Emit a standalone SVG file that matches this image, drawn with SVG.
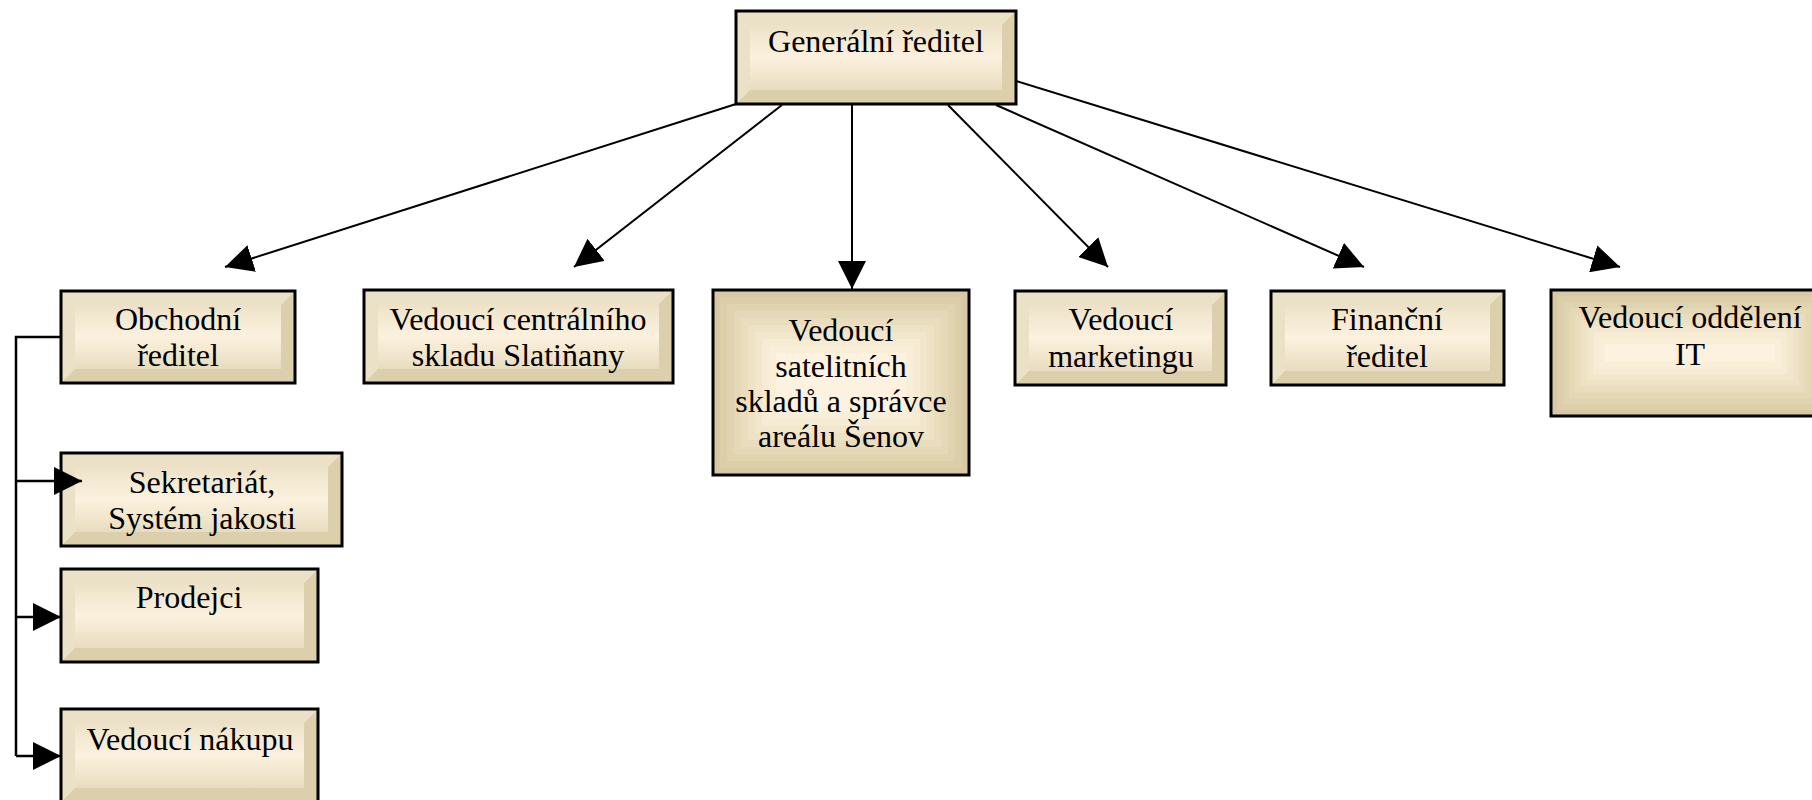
<svg xmlns="http://www.w3.org/2000/svg" width="1812" height="800" viewBox="0 0 1812 800">
<style>
.frame{fill:#dccfac}
.bevel{fill:#ebe1c7}
.inner{fill:url(#innerGrad)}
.border{fill:none;stroke:#000;stroke-width:3}
.lbl{font-family:"Liberation Serif","Times New Roman",serif;font-size:32px;fill:#000;text-anchor:middle}
.conn{fill:none;stroke:#000;stroke-width:2}
.bracket{fill:none;stroke:#000;stroke-width:2.5}
</style>
<defs>
<linearGradient id="innerGrad" x1="0" y1="0" x2="0" y2="1">
<stop offset="0" stop-color="#ede2c8"/>
<stop offset="0.5" stop-color="#fcf1de"/>
<stop offset="1" stop-color="#e8dcbf"/>
</linearGradient>
<marker id="arr" markerUnits="userSpaceOnUse" markerWidth="28" markerHeight="28" refX="28" refY="14" orient="auto" viewBox="0 0 28 28">
<path d="M0,0 L28,14 L0,28 Z" fill="#000"/>
</marker>
</defs>
<rect width="1812" height="800" fill="#fff"/>

<g id="n-generalni">
<rect class="frame" x="736" y="11" width="280" height="93"/>
<path class="bevel" d="M736,11 H1016 L1002,25 H750 V90 L736,104 Z"/>
<rect class="inner" x="750" y="25" width="252" height="65"/>
<rect class="border" x="736" y="11" width="280" height="93"/>
<text class="lbl" x="876" y="52">Generální ředitel</text>
</g>

<g id="n-obchodni">
<rect class="frame" x="61" y="291" width="234" height="92"/>
<path class="bevel" d="M61,291 H295 L281,305 H75 V369 L61,383 Z"/>
<rect class="inner" x="75" y="305" width="206" height="64"/>
<rect class="border" x="61" y="291" width="234" height="92"/>
<text class="lbl" x="178" y="330">Obchodní</text>
<text class="lbl" x="178" y="366">ředitel</text>
</g>

<g id="n-centralni">
<rect class="frame" x="364" y="290" width="309" height="93"/>
<path class="bevel" d="M364,290 H673 L659,304 H378 V369 L364,383 Z"/>
<rect class="inner" x="378" y="304" width="281" height="65"/>
<rect class="border" x="364" y="290" width="309" height="93"/>
<text class="lbl" x="518" y="330">Vedoucí centrálního</text>
<text class="lbl" x="518" y="366">skladu Slatiňany</text>
</g>

<g id="n-satelitni">
<rect x="713" y="290" width="256" height="185" fill="#d8c9a4"/>
<rect x="720" y="297" width="242" height="171" fill="#dccea9"/>
<rect x="727" y="304" width="228" height="157" fill="#e0d3af"/>
<rect x="734" y="311" width="214" height="143" fill="#e5d8b6"/>
<rect x="741" y="318" width="200" height="129" fill="#e9ddbd"/>
<rect x="748" y="325" width="186" height="115" fill="#eee2c5"/>
<rect x="755" y="332" width="172" height="101" fill="#f2e7cc"/>
<rect x="762" y="339" width="158" height="87" fill="#f6ebd3"/>
<rect x="769" y="346" width="144" height="73" fill="#f9efd9"/>
<rect x="776" y="353" width="130" height="59" fill="#fcf2df"/>
<rect class="border" x="713" y="290" width="256" height="185"/>
<text class="lbl" x="841" y="341">Vedoucí</text>
<text class="lbl" x="841" y="377">satelitních</text>
<text class="lbl" x="841" y="412">skladů a správce</text>
<text class="lbl" x="841" y="447">areálu Šenov</text>
</g>

<g id="n-marketing">
<rect class="frame" x="1015" y="291" width="211" height="94"/>
<path class="bevel" d="M1015,291 H1226 L1212,305 H1029 V371 L1015,385 Z"/>
<rect class="inner" x="1029" y="305" width="183" height="66"/>
<rect class="border" x="1015" y="291" width="211" height="94"/>
<text class="lbl" x="1121" y="330">Vedoucí</text>
<text class="lbl" x="1121" y="367">marketingu</text>
</g>

<g id="n-financni">
<rect class="frame" x="1271" y="291" width="233" height="94"/>
<path class="bevel" d="M1271,291 H1504 L1490,305 H1285 V371 L1271,385 Z"/>
<rect class="inner" x="1285" y="305" width="205" height="66"/>
<rect class="border" x="1271" y="291" width="233" height="94"/>
<text class="lbl" x="1387" y="330">Finanční</text>
<text class="lbl" x="1387" y="367">ředitel</text>
</g>

<g id="n-it">
<rect x="1551" y="290" width="278" height="126" fill="#d8c9a4"/>
<rect x="1557" y="296" width="266" height="114" fill="#dccea9"/>
<rect x="1563" y="302" width="254" height="102" fill="#e0d3af"/>
<rect x="1569" y="308" width="242" height="90" fill="#e5d8b6"/>
<rect x="1575" y="314" width="230" height="78" fill="#e9ddbd"/>
<rect x="1581" y="320" width="218" height="66" fill="#eee2c5"/>
<rect x="1587" y="326" width="206" height="54" fill="#f2e7cc"/>
<rect x="1593" y="332" width="194" height="42" fill="#f6ebd3"/>
<rect x="1599" y="338" width="182" height="30" fill="#f9efd9"/>
<rect x="1605" y="344" width="170" height="18" fill="#fcf2df"/>
<rect class="border" x="1551" y="290" width="278" height="126"/>
<text class="lbl" x="1690" y="328">Vedoucí oddělení</text>
<text class="lbl" x="1690" y="365">IT</text>
</g>

<g id="n-sekretariat">
<rect class="frame" x="61" y="453" width="281" height="93"/>
<path class="bevel" d="M61,453 H342 L328,467 H75 V532 L61,546 Z"/>
<rect class="inner" x="75" y="467" width="253" height="65"/>
<rect class="border" x="61" y="453" width="281" height="93"/>
<text class="lbl" x="202" y="493">Sekretariát,</text>
<text class="lbl" x="202" y="529">Systém jakosti</text>
</g>

<g id="n-prodejci">
<rect class="frame" x="61" y="569" width="257" height="93"/>
<path class="bevel" d="M61,569 H318 L304,583 H75 V648 L61,662 Z"/>
<rect class="inner" x="75" y="583" width="229" height="65"/>
<rect class="border" x="61" y="569" width="257" height="93"/>
<text class="lbl" x="189" y="608">Prodejci</text>
</g>

<g id="n-nakup">
<rect class="frame" x="61" y="709" width="257" height="93"/>
<path class="bevel" d="M61,709 H318 L304,723 H75 V788 L61,802 Z"/>
<rect class="inner" x="75" y="723" width="229" height="65"/>
<rect class="border" x="61" y="709" width="257" height="93"/>
<text class="lbl" x="190" y="750">Vedoucí nákupu</text>
</g>

<g id="connectors">
<line class="conn" x1="736" y1="104" x2="225" y2="267" marker-end="url(#arr)"/>
<line class="conn" x1="782" y1="105" x2="574" y2="267" marker-end="url(#arr)"/>
<line class="conn" x1="852" y1="105" x2="852" y2="289" marker-end="url(#arr)"/>
<line class="conn" x1="948" y1="105" x2="1108" y2="267" marker-end="url(#arr)"/>
<line class="conn" x1="996" y1="105" x2="1364" y2="267" marker-end="url(#arr)"/>
<line class="conn" x1="1016" y1="81" x2="1620" y2="267" marker-end="url(#arr)"/>
<polyline class="bracket" points="61,337 16,337 16,756"/>
<line class="bracket" x1="16" y1="481" x2="82" y2="481" marker-end="url(#arr)"/>
<line class="bracket" x1="16" y1="617" x2="61" y2="617" marker-end="url(#arr)"/>
<line class="bracket" x1="16" y1="756" x2="61" y2="756" marker-end="url(#arr)"/>
</g>
</svg>
